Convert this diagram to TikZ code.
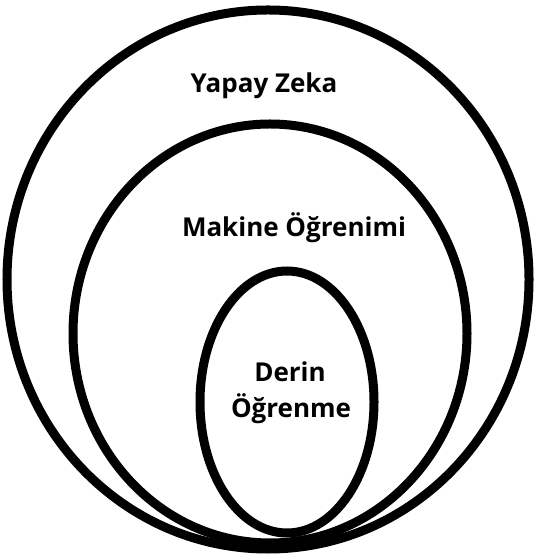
\documentclass[tikz,border=0pt]{standalone}
\usepackage{fontspec}
\setmainfont{Open Sans}
\usetikzlibrary{shapes.geometric}
\begin{document}
\begin{tikzpicture}[x=1pt,y=1pt,
  ring/.style={draw=black,line width=9pt,ellipse,inner sep=0pt,outer sep=0pt},
  lbl/.style={font=\fontsize{26}{30}\selectfont\bfseries,anchor=base,inner sep=0pt}]
\useasboundingbox (0,0) rectangle (535,556);
\node[ring,minimum width=522pt,minimum height=539pt] (ai) at (268,276.5) {};
\node[ring,minimum width=394pt,minimum height=419pt] (ml) at (270,222.5) {};
\node[ring,minimum width=174pt,minimum height=262pt] (dl) at (287,154) {};
\node[lbl] (tai) at (264,463) {Yapay Zeka};
\node[lbl] (tml) at (294,319) {Makine Öğrenimi};
\node[lbl] (tdl1) at (290,174) {Derin};
\node[lbl] (tdl2) at (291,138) {Öğrenme};
\end{tikzpicture}
\end{document}
